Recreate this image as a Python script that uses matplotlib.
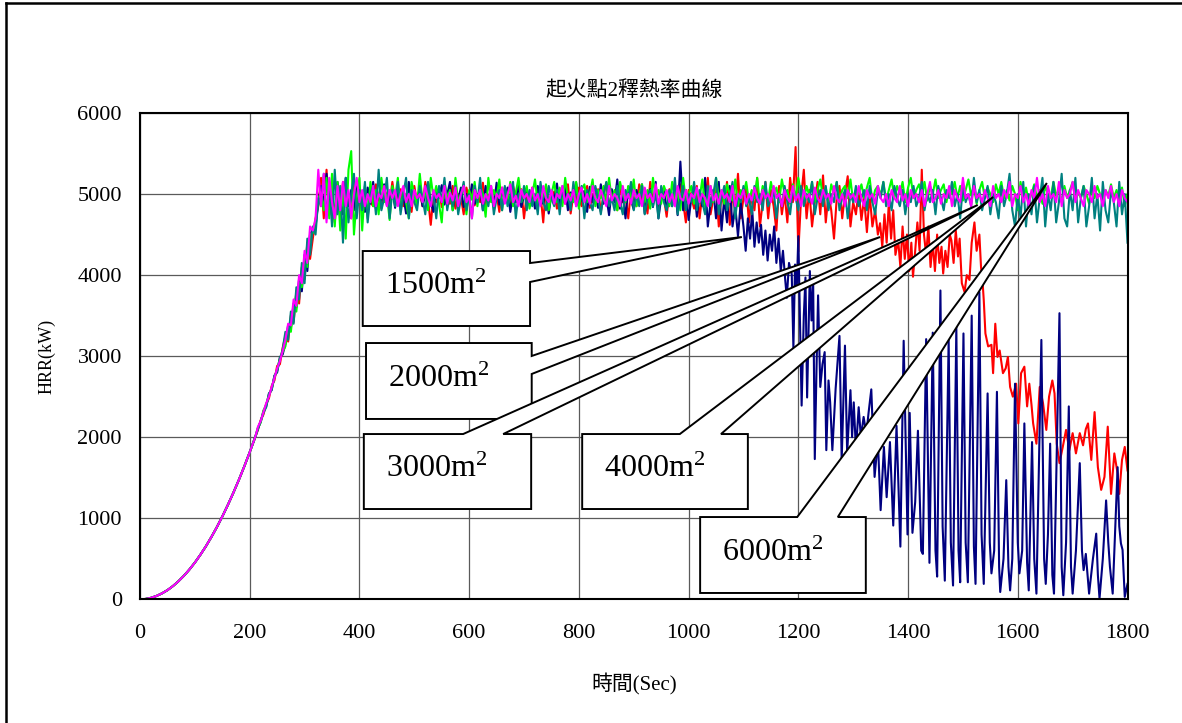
import numpy as np
import matplotlib
matplotlib.use("Agg")
import matplotlib.pyplot as plt
from matplotlib.patches import Polygon
from matplotlib.lines import Line2D

plt.rcParams['font.family'] = ['Liberation Serif', 'Noto Sans CJK TC', 'DejaVu Sans']
plt.rcParams['mathtext.fontset'] = 'custom'
plt.rcParams['mathtext.rm'] = 'Liberation Serif'
plt.rcParams['mathtext.default'] = 'rm'

# growth phase, same for every case (read every 10 s)
ramp_t = [0, 10, 20, 30, 40, 50, 60, 70, 80, 90, 100, 110, 120, 130, 140,
          150, 160, 170, 180, 190, 200, 210]
ramp_hrr = [0, 4, 18, 41, 73, 113, 163, 222, 290, 367, 453, 549, 653, 767, 889,
            1021, 1162, 1312, 1470, 1638, 1815, 2001]

# after the ramp: one reading every 5 s starting at 215 s
start_t = 215
step_t = 5

navy_hrr = [
    2110, 2190, 2320, 2380, 2540, 2580, 2760, 2800, 2990, 3020,
    3150, 3380, 3350, 3650, 3600, 3950, 3800, 4250, 4050, 4500,
    4560, 4600, 4900, 5100, 4850, 5250, 4800, 5050, 4700, 5150,
    4900, 4750, 5200, 4850, 5050, 4800, 5100, 4900, 5000, 4780,
    5080, 4880, 5150, 4820, 5000, 4920, 5120, 4860, 4950, 5060,
    4830, 5100, 4900, 4980, 4760, 5150, 4880, 5020, 4920, 5080,
    4850, 5000, 5130, 4900, 4780, 5060, 4950, 5110, 4870, 4990,
    5150, 4800, 5020, 4930, 5080, 4840, 5000, 4900, 5120, 4880,
    4960, 5060, 4800, 5100, 4910, 4990, 4850, 5140, 4870, 5030,
    4920, 5080, 4780, 5000, 4900, 5120, 4840, 4980, 5060, 4890,
    5010, 4820, 5100, 4930, 4880, 5050, 4760, 5000, 4950, 5130,
    4870, 4990, 5080, 4800, 5020, 4910, 5140, 4850, 4960, 5040,
    4780, 5090, 4900, 5010, 4830, 5120, 4880, 4970, 4740, 5060,
    4900, 5180, 4820, 5000, 4700, 5090, 4920, 4810, 5050, 4880,
    5120, 4760, 4980, 5060, 4840, 5150, 4700, 4950, 5080, 4800,
    5000, 4850, 5120, 4740, 5400, 4800, 5050, 4680, 4950, 5100,
    4720, 5000, 4850, 5200, 4600, 4900, 5050, 4700, 5150, 4550,
    4950, 4650, 5100, 4600, 4850, 4480, 4900]
navy_tail_t = [
    1100, 1104, 1108, 1112, 1116, 1120, 1124, 1128, 1132, 1136,
    1140, 1144, 1148, 1152, 1156, 1160, 1164, 1168, 1172, 1176,
    1179, 1183, 1188, 1191, 1194, 1197, 1200, 1203, 1206, 1210,
    1213, 1216, 1221, 1224, 1227, 1230, 1233, 1236, 1240, 1244,
    1248, 1251, 1255, 1258, 1262, 1268, 1275, 1279, 1285, 1289,
    1295, 1298, 1301, 1305, 1310, 1314, 1319, 1324, 1328, 1333,
    1339, 1345, 1350, 1356, 1361, 1367, 1373, 1379, 1386, 1392,
    1399, 1403, 1408, 1413, 1418, 1424, 1427, 1433, 1439, 1445,
    1450, 1453, 1459, 1463, 1467, 1474, 1478, 1482, 1488, 1492,
    1495, 1501, 1505, 1509, 1516, 1520, 1523, 1530, 1534, 1538,
    1545, 1549, 1552, 1557, 1562, 1566, 1568, 1574, 1579, 1583,
    1586, 1590, 1595, 1600, 1603, 1608, 1612, 1617, 1620, 1626,
    1630, 1634, 1643, 1648, 1651, 1655, 1659, 1663, 1666, 1676,
    1680, 1683, 1688, 1693, 1697, 1700, 1706, 1713, 1717, 1720,
    1724, 1730, 1737, 1743, 1746, 1749, 1755, 1761, 1765, 1768,
    1773, 1782, 1785, 1788, 1791, 1795, 1800]
navy_tail_hrr = [
    4600, 4300, 4700, 4450, 4800, 4350, 4650, 4400, 4620, 4250,
    4550, 4180, 4500, 4300, 4600, 4150, 4450, 4050, 4300, 3950,
    3720, 4150, 4010, 3100, 4130, 3800, 4480, 3400, 2390, 3500,
    3970, 2490, 4050, 3440, 3930, 1730, 2800, 3750, 2620, 2900,
    3050, 1840, 2700, 2430, 1840, 2600, 3250, 1710, 3130, 1800,
    2580, 2000, 2430, 1840, 2370, 2000, 2250, 2040, 2300, 2590,
    1510, 1960, 1100, 1880, 1260, 1940, 910, 2140, 650, 3190,
    800, 2300, 820, 1200, 2080, 600, 560, 3210, 450, 3290,
    600, 280, 3810, 900, 230, 3200, 700, 170, 3360, 600,
    210, 3280, 700, 210, 3500, 650, 190, 3790, 800, 190,
    2540, 700, 320, 600, 2560, 400, 90, 500, 1470, 400,
    110, 500, 2660, 700, 320, 600, 2170, 450, 110, 1940,
    500, 70, 3200, 500, 190, 800, 1920, 300, 70, 3530,
    400, 50, 700, 2380, 400, 70, 600, 1680, 600, 360,
    560, 70, 500, 810, 300, 10, 500, 1220, 700, 400,
    70, 1630, 900, 690, 610, 30, 190]

red_hrr = [
    2090, 2210, 2280, 2410, 2480, 2630, 2700, 2880, 2900, 3100,
    3250, 3180, 3500, 3420, 3800, 3650, 4100, 3950, 4400, 4200,
    4450, 4700, 4850, 5200, 4700, 5300, 4750, 5000, 4650, 5100,
    4800, 5150, 4850, 5000, 4700, 5100, 4880, 5050, 4920, 4800,
    5050, 4900, 4850, 5120, 4950, 4820, 5080, 4960, 4880, 5150,
    4900, 4980, 5060, 4850, 5000, 4930, 4780, 5100, 4900, 5030,
    4850, 5150, 4940, 4620, 5000, 4900, 5080, 4840, 5020, 4950,
    4880, 5100, 4820, 5000, 4960, 4750, 5080, 4930, 5020, 4860,
    5000, 4900, 5140, 4820, 4960, 5050, 4880, 5000, 4780, 5080,
    4920, 5010, 4840, 5100, 4950, 4870, 5060, 4700, 5000, 4930,
    5080, 4850, 4980, 5000, 4650, 5100, 4900, 4960, 5030, 4820,
    5050, 4940, 4880, 5120, 4760, 5000, 4920, 5080, 4850, 4990,
    5100, 4830, 5000, 4920, 5060, 4780, 4980, 5140, 4860, 4950,
    5030, 4800, 5100, 4900, 4980, 4700, 5060, 4920, 4850, 5120,
    4880, 5000, 4760, 5150, 4900, 5020, 4800, 5080, 4950, 4720,
    5060, 4880, 5000, 4780, 5120, 4900, 4650, 5050, 4960, 4820,
    5100, 4700, 5000, 4880, 5200, 4750, 4950, 5080, 4600, 5000,
    4850, 5150, 4620, 5000, 4800, 5250, 4700, 4950, 5100, 4650,
    5000, 4800, 5200, 4600, 4900, 5150, 4700, 5050, 4850, 4550,
    5100, 4750, 5000, 4650, 5200, 4900, 5580, 4290, 4950, 5300,
    4700, 5050, 4600, 4900, 5150, 4750, 5230, 4650, 5000, 4800,
    4450, 4950, 5100, 4700, 5000, 5220, 4600, 4900, 4750, 5050,
    4680, 4950, 4530, 5000, 4600]
red_tail_t = [
    1340, 1345, 1349, 1353, 1357, 1361, 1365, 1369, 1373, 1377,
    1382, 1386, 1390, 1394, 1398, 1402, 1406, 1409, 1413, 1417,
    1421, 1425, 1429, 1433, 1437, 1441, 1445, 1449, 1453, 1457,
    1461, 1464, 1468, 1472, 1476, 1479, 1483, 1487, 1491, 1494,
    1498, 1503, 1507, 1512, 1516, 1521, 1525, 1530, 1533, 1536,
    1538, 1541, 1546, 1552, 1555, 1559, 1563, 1567, 1573, 1578,
    1582, 1586, 1591, 1597, 1601, 1606, 1612, 1617, 1621, 1625,
    1628, 1634, 1640, 1646, 1652, 1657, 1663, 1667, 1671, 1676,
    1682, 1688, 1694, 1700, 1706, 1713, 1719, 1724, 1728, 1734,
    1740, 1746, 1752, 1758, 1764, 1770, 1776, 1782, 1785, 1790,
    1795, 1800]
red_tail_hrr = [
    4800, 4500, 4640, 4350, 4750, 4400, 4900, 4450, 4800, 4250,
    4430, 4100, 4600, 4200, 4500, 4050, 4400, 3980, 4300, 4650,
    4300, 5300, 4500, 4250, 4600, 4100, 4400, 4050, 4500, 4150,
    4350, 4020, 4300, 4100, 4500, 4430, 4150, 4550, 4230, 4450,
    3900, 3790, 4000, 3940, 4400, 4650, 4300, 4500, 4100, 3900,
    3690, 3280, 3120, 3140, 2790, 3400, 2990, 3070, 2790, 2850,
    2990, 2620, 2500, 2660, 2170, 2790, 2870, 2380, 2660, 2400,
    2170, 1920, 2620, 2420, 2090, 2500, 2700, 2540, 1920, 1680,
    1880, 2090, 1840, 2050, 1800, 2050, 1900, 2100, 2170, 1720,
    2310, 1630, 1350, 1510, 2130, 1300, 1800, 1550, 1300, 1720,
    1880, 1590]

green_hrr = [
    2120, 2180, 2330, 2400, 2520, 2600, 2740, 2830, 2970, 3050,
    3120, 3350, 3300, 3600, 3550, 3900, 3850, 4200, 4100, 4500,
    4520, 4650, 4950, 5000, 4800, 5200, 4700, 5250, 4600, 5150,
    4550, 5100, 4450, 5300, 5530, 4500, 4950, 5200, 4550, 5100,
    4700, 5150, 4850, 5050, 4750, 5200, 4900, 5000, 4680, 5100,
    4950, 5200, 4800, 5050, 4900, 4700, 5150, 5000, 4850, 5250,
    4900, 5050, 4800, 5200, 4950, 5100, 4880, 4650, 5150, 4950,
    5050, 4800, 5200, 4900, 5000, 5120, 4750, 5050, 4930, 5150,
    4850, 5100, 5000, 4720, 5200, 4900, 5050, 4950, 5180, 4800,
    5080, 4920, 5150, 4850, 5020, 5200, 4900, 4980, 5100, 4820,
    5000, 5180, 4880, 5050, 4950, 5120, 4800, 5000, 5150, 4900,
    5080, 4850, 5200, 4950, 5000, 4900, 5150, 4820, 5050, 5120,
    4900, 5000, 5180, 4850, 5050, 4950, 5100, 4880, 5200, 4920,
    5050, 4800, 5150, 5000, 4900, 5100, 4950, 5180, 4850, 5000,
    5120, 4900, 5050, 4820, 5200, 4950, 5050, 4880, 5100, 5000,
    4850, 5150, 4950, 5050, 4800, 5200, 4920, 5000, 5100, 4880,
    5050, 4950, 5180, 4850, 5020, 5100, 4900, 5200, 4950, 5050,
    4880, 5120, 5000, 4920, 5180, 4850, 5050, 5000, 5150, 4900,
    5050, 4950, 5200, 4880, 5100, 5000, 4920, 5150, 4980, 5080,
    4900, 5180, 5000, 5050, 4880, 5120, 4950, 5200, 5000, 4920,
    5100, 4980, 5150, 4900, 5050, 5180, 4950, 5080, 4880, 5120,
    5000, 5150, 4920, 5050, 5100, 4950, 5180, 4900, 5050, 5000,
    5120, 4950, 5080, 5200, 4900, 5050, 5100, 4980, 5150, 4920,
    5050, 5180, 4950, 5100, 5000, 5150, 4900, 5080, 5200, 4950,
    5050, 5120, 4980, 5150, 4920, 5100, 5000, 5180, 4950, 5050,
    5120, 4900, 5080, 5000, 5150, 4950, 5100, 4920, 5050, 5180,
    4980, 5100, 4880, 5050, 5150, 4950, 5080, 5000, 4900, 5120,
    5000, 5150, 4950, 5050, 4920, 5100, 5000, 4800, 5150, 4950,
    5080, 4900, 5000, 5120, 4950, 5050, 4880, 5100, 5000, 4950,
    5150, 4980, 5050, 4900, 5100, 4950, 5050, 5150, 4920, 5020,
    4950, 5100, 5000, 4880, 5080, 4950, 5100, 5000, 4900, 5050,
    4980, 5120, 4950, 5050, 4900, 5080, 4850, 5000]

teal_hrr = [
    2100, 2200, 2300, 2370, 2530, 2590, 2750, 2820, 2960, 3080,
    3300, 3200, 3550, 3400, 3850, 3700, 4150, 3900, 4450, 4250,
    4600, 4500, 4950, 4850, 5250, 4700, 5150, 4600, 5300, 4750,
    5100, 4400, 5200, 4650, 5000, 5250, 4700, 5050, 4800, 5150,
    4650, 5000, 5100, 4750, 5300, 4800, 4950, 5200, 4700, 5050,
    4850, 5150, 4750, 5000, 5200, 4700, 5050, 4900, 4800, 5100,
    4950, 4750, 5150, 4850, 5000, 4700, 5100, 4900, 5200, 4800,
    5000, 4850, 5100, 4750, 4950, 5150, 4800, 5000, 4700, 5100,
    4900, 5200, 4800, 5000, 4850, 5100, 4750, 4950, 5050, 4800,
    5100, 4850, 4950, 5150, 4700, 5000, 4900, 5100, 4800, 5050,
    4850, 5000, 4750, 5150, 4900, 4800, 5100, 4950, 4850, 5050,
    4750, 5100, 4900, 5000, 4800, 5150, 4850, 4950, 5100, 4700,
    5050, 4900, 4800, 5100, 4950, 4750, 5000, 5150, 4850, 4950,
    4800, 5100, 4900, 4750, 5050, 4950, 5150, 4800, 5000, 4850,
    5100, 4750, 4950, 5050, 4850, 5000, 4700, 5100, 4900, 4800,
    5050, 4850, 5200, 4750, 4950, 5100, 4800, 5000, 4900, 5150,
    4800, 5050, 4900, 4750, 5100, 4850, 5000, 5200, 4750, 4950,
    5100, 4800, 4950, 5150, 4700, 5000, 4900, 5100, 4850, 4950,
    4750, 5100, 4900, 5000, 4800, 5150, 4850, 4950, 5050, 4700,
    5000, 4850, 5100, 4900, 4750, 5050, 4950, 4800, 5100, 4850,
    5000, 4900, 5150, 4750, 4950, 5050, 4850, 5100, 4800, 5000,
    4900, 5150, 4800, 4950, 5050, 4700, 5000, 4900, 5100, 4850,
    4950, 5050, 4800, 5100, 4900, 4750, 5050, 4950, 5150, 4850,
    5000, 4800, 5100, 4950, 4850, 5050, 4750, 5000, 4900, 5100,
    4850, 4950, 5150, 4800, 5000, 4900, 5050, 4750, 5100, 4950,
    4800, 5050, 4950, 5150, 4850, 5000, 4700, 5100, 4900, 5000,
    4850, 5200, 4900, 5050, 4800, 4950, 5100, 4750, 5000, 4900,
    4700, 5100, 4850, 5000, 5250, 4800, 4600, 5000, 4700, 5150,
    4600, 5000, 4750, 5100, 4650, 4950, 5200, 4600, 5000, 4800,
    5150, 4650, 4900, 5250, 4700, 4600, 5050, 4800, 5200, 4650,
    4950, 5100, 4600, 4850, 5200, 4700, 5000, 4550, 5150, 4800,
    4650, 5050, 4900, 4600, 5150, 4750, 5000, 4400]

magenta_hrr = [
    2130, 2200, 2310, 2420, 2500, 2620, 2730, 2850, 2940, 3060,
    3200, 3400, 3380, 3700, 3620, 4000, 3900, 4300, 4150, 4600,
    4550, 4700, 5300, 4850, 5250, 4650, 5200, 4900, 4700, 5100,
    4800, 5150, 4850, 5050, 4700, 5000, 5200, 4900, 5050, 4850,
    5000, 4900, 5100, 4850, 5000, 4950, 5100, 4850, 5050, 4950,
    5050, 4850, 5000, 5100, 4900, 5000, 4850, 5050, 4950, 5000,
    4900, 5100, 4950, 4850, 5050, 4950, 5000, 4900, 5100, 4880,
    5020, 4920, 5080, 4850, 5000, 5100, 4900, 4980, 4700, 5050,
    4950, 5050, 4880, 5000, 4920, 5100, 4850, 5000, 4950, 5080,
    4880, 5000, 5120, 4900, 4980, 4850, 5050, 4950, 5000, 4900,
    5080, 4920, 5000, 4850, 5100, 4950, 4900, 5050, 4880, 5000,
    4950, 5100, 4880, 5000, 4920, 5050, 4850, 5000, 5080, 4900,
    5000, 4880, 5100, 4950, 4900, 5050, 4950, 4850, 5100, 4920,
    5000, 4950, 4850, 5100, 4920, 5000, 4880, 5050, 4950, 5000,
    4850, 5080, 4950, 5000, 4900, 5120, 4880, 5000, 4950, 5050,
    4900, 5000, 4850, 5100, 4950, 4920, 5050, 4880, 5000, 4950,
    5080, 4900, 5000, 4950, 4850, 5100, 4920, 5000, 4880, 5050,
    4950, 5000, 4900, 5100, 4850, 5000, 4950, 5050, 4880, 5000,
    4920, 5080, 4950, 4880, 5050, 4950, 5000, 4900, 5100, 4950,
    5000, 4850, 5050, 4950, 4900, 5100, 4920, 5000, 4850, 5050,
    4950, 5000, 4880, 5080, 4950, 4900, 5050, 4950, 5000, 4880,
    5100, 4950, 4900, 5000, 4850, 5050, 4950, 5000, 4900, 5100,
    4950, 4850, 5050, 4950, 5000, 4880, 5100, 4950, 4900, 5000,
    4850, 5050, 4950, 4900, 5100, 4920, 5000, 4850, 5050, 4950,
    5000, 4900, 5050, 4850, 5000, 5150, 4900, 4950, 5050, 4880,
    5000, 4950, 5100, 4850, 5050, 4950, 4900, 5200, 4950, 5000,
    4850, 5100, 4950, 5000, 4900, 5050, 4950, 4850, 5100, 4950,
    5000, 4900, 5050, 4950, 5150, 4850, 5000, 4950, 5100, 4900,
    5000, 4850, 5050, 4950, 5200, 4900, 5000, 4850, 5100, 4950,
    5000, 4900, 5150, 4850, 5050, 4950, 5000, 5150, 4900, 5050,
    4950, 4850, 5050, 5000, 4900, 5100, 4950, 5000, 4850, 5050,
    4950, 5100, 4900, 5000, 4850, 5050, 4950, 4900]

# callout labels (floor area)
area_labels = ['1500', '2000', '3000', '4000', '6000']


def build(vals, tail_t=None, tail_hrr=None):
    t = ramp_t + [start_t + step_t * i for i in range(len(vals))]
    y = ramp_hrr + list(vals)
    if tail_t is not None:
        t = t + tail_t
        y = y + tail_hrr
    return t, y


fig = plt.figure(figsize=(11.82, 7.23), dpi=100)
ax = fig.add_axes([140 / 1182, 1 - 599.3 / 723, 987.5 / 1182, 486.3 / 723])

lw = 1.5
t, y = build(red_hrr, red_tail_t, red_tail_hrr)
ax.plot(t, y, color='#FF0000', lw=lw)
t, y = build(navy_hrr, navy_tail_t, navy_tail_hrr)
ax.plot(t, y, color='#000080', lw=lw)
t, y = build(green_hrr)
ax.plot(t, y, color='#00FF00', lw=lw)
t, y = build(teal_hrr)
ax.plot(t, y, color='#008080', lw=lw)
t, y = build(magenta_hrr)
ax.plot(t, y, color='#FF00FF', lw=lw)

ax.set_xlim(0, 1800)
ax.set_ylim(0, 6000)
ax.set_xticks(range(0, 1801, 200))
ax.set_yticks(range(0, 6001, 1000))
ax.tick_params(length=0, labelsize=16)
ax.tick_params(axis='x', pad=18)
ax.tick_params(axis='y', pad=13)
ax.grid(True, color='#5a5a5a', lw=0.9)
ax.set_axisbelow(True)
for s in ax.spines.values():
    s.set_linewidth(1.5)

ax.set_title('起火點2釋熱率曲線', fontsize=15, pad=12)
ax.set_xlabel('時間(Sec)', fontsize=15)
ax.set_ylabel('HRR(kW)', fontsize=13)
ax.xaxis.set_label_coords(0.5, -0.152)
ax.yaxis.set_label_coords(-0.086, 0.5)

# callout boxes: (x0, x1, ytop, ybot), wedge base, tip
boxes = [
    dict(box=(406, 711, 4297, 3372), side='right', base=(4149, 3915), tip=(1097, 4470)),
    dict(box=(412, 714, 3162, 2225), side='right', base=(3002, 2780), tip=(1349, 4470)),
    dict(box=(408, 713, 2039, 1114), side='top', base=(589, 662), tip=(1527, 4865)),
    dict(box=(806, 1108, 2039, 1114), side='top', base=(984, 1059), tip=(1555, 4964)),
    dict(box=(1021, 1323, 1015, 78), side='top', base=(1198, 1272), tip=(1653, 5136)),
]
for lab, b in zip(area_labels, boxes):
    x0, x1, yt, yb = b['box']
    if b['side'] == 'right':
        pts = [(x0, yt), (x1, yt), (x1, b['base'][0]), b['tip'],
               (x1, b['base'][1]), (x1, yb), (x0, yb)]
    else:
        pts = [(x0, yt), (b['base'][0], yt), b['tip'], (b['base'][1], yt),
               (x1, yt), (x1, yb), (x0, yb)]
    ax.add_patch(Polygon(pts, closed=True, facecolor='white', edgecolor='black',
                         lw=1.4, zorder=5))
    ax.text(x0 + 40, yb + 390, lab + 'm$^2$', fontsize=23, ha='left',
            va='baseline', zorder=6)

# outer frame of the picture
fig.add_artist(Line2D([6 / 1182, 6 / 1182], [0, 1 - 3 / 723],
                      transform=fig.transFigure, color='black', lw=1.8))
fig.add_artist(Line2D([6 / 1182, 1], [1 - 3 / 723, 1 - 3 / 723],
                      transform=fig.transFigure, color='black', lw=1.8))

fig.savefig('out.png', dpi=100)
